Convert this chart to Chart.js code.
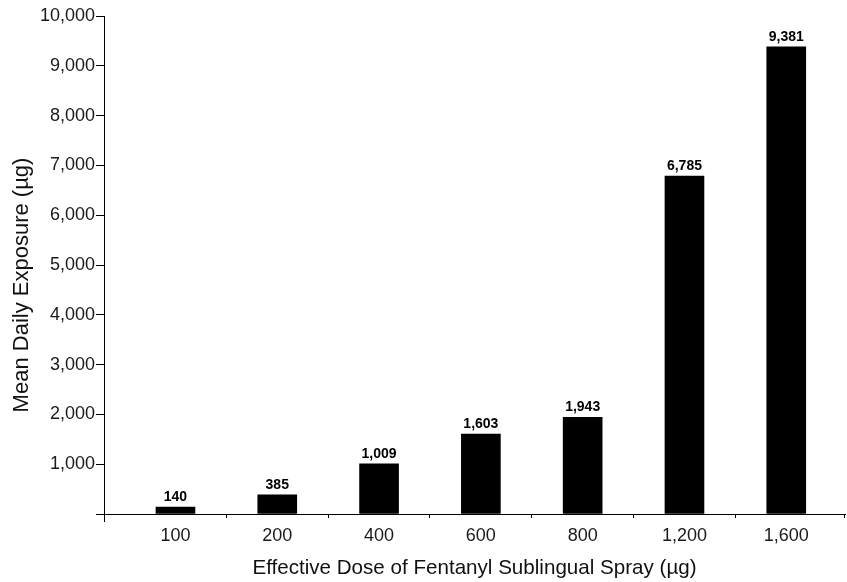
<!DOCTYPE html>
<html>
<head>
<meta charset="utf-8">
<script src="https://cdn.jsdelivr.net/npm/chart.js@4"></script>
<style>
  html, body { margin: 0; padding: 0; background: #fff; }
  #wrap { width: 847px; height: 582px; }
</style>
</head>
<body>
<div id="wrap"><canvas id="doseChart"></canvas></div>
<script>
// --- Chart data ---
const doses = ["100", "200", "400", "600", "800", "1,200", "1,600"];
const exposure = [140, 385, 1009, 1603, 1943, 6785, 9381];
const yMin = 0;
const yMax = 10000;
const yStep = 1000;

const xTitle = "Effective Dose of Fentanyl Sublingual Spray (\u00b5g)";
const yTitle = "Mean Daily Exposure (\u00b5g)";

const fontFamily = "'Liberation Sans', Arial, Helvetica, sans-serif";

// value labels over the bars, placed from the bar elements
const barValueLabels = {
  id: "barValueLabels",
  afterDatasetsDraw(chart) {
    const ctx = chart.ctx;
    const meta = chart.getDatasetMeta(0);
    ctx.save();
    ctx.font = "bold 14px " + fontFamily;
    ctx.textAlign = "center";
    ctx.textBaseline = "alphabetic";
    ctx.fillStyle = "#000";
    meta.data.forEach((bar, i) => {
      ctx.fillText(exposure[i].toLocaleString("en-US"), bar.x, bar.y - 6);
    });
    ctx.restore();
  },
};

// small axis extras: y axis running past the x axis, end nub, y title
const axisExtras = {
  id: "axisExtras",
  afterDraw(chart) {
    const { ctx, chartArea } = chart;
    ctx.save();
    ctx.strokeStyle = "#000";
    ctx.lineWidth = 1;
    ctx.beginPath();
    ctx.moveTo(Math.round(chartArea.left) + 0.5, chartArea.bottom);
    ctx.lineTo(Math.round(chartArea.left) + 0.5, chartArea.bottom + 8);
    ctx.moveTo(Math.round(chartArea.right) - 0.5, chartArea.bottom);
    ctx.lineTo(Math.round(chartArea.right) - 0.5, chartArea.bottom + 4);
    ctx.stroke();

    ctx.translate(22, (chartArea.top + chartArea.bottom) / 2 + 20);
    ctx.rotate(-Math.PI / 2);
    ctx.font = "22px " + fontFamily;
    ctx.textAlign = "center";
    ctx.textBaseline = "middle";
    ctx.fillStyle = "#111";
    ctx.fillText(yTitle, 0, 0);
    ctx.restore();
  },
};

const canvas = document.getElementById("doseChart");

new Chart(canvas, {
  type: "bar",
  data: {
    datasets: [
      {
        label: "Mean Daily Exposure",
        data: exposure.map((v, i) => ({ x: i, y: v })),
        backgroundColor: "#000",
        borderWidth: 0,
        barThickness: 39,
      },
    ],
  },
  options: {
    responsive: true,
    maintainAspectRatio: false,
    devicePixelRatio: 1,
    animation: false,
    layout: {
      padding: { top: 16, right: 2, left: 0, bottom: 0 },
    },
    plugins: {
      legend: { display: false },
      tooltip: { enabled: false },
    },
    scales: {
      x: {
        type: "linear",
        offset: false,
        min: -0.702,
        max: 6.577,
        afterBuildTicks: (scale) => {
          scale.ticks = doses.map((d, i) => ({ value: i }));
        },
        afterFit: (scale) => {
          scale.height = 68;
        },
        ticks: {
          callback: (value) => doses[value],
          color: "#1a1a1a",
          font: { family: fontFamily, size: 18 },
          padding: 7,
          maxRotation: 0,
          autoSkip: false,
        },
        grid: {
          offset: true,
          drawOnChartArea: false,
          tickLength: 4,
          tickColor: (ctx) =>
            ctx.index === undefined || ctx.index === 0 ? "rgba(0,0,0,0)" : "#000",
        },
        border: { display: true, color: "#000", width: 1 },
        title: {
          display: true,
          text: xTitle,
          color: "#111",
          font: { family: fontFamily, size: 20.6 },
          padding: { top: 0, bottom: 1 },
        },
      },
      y: {
        min: yMin,
        max: yMax,
        afterFit: (scale) => {
          scale.width = 104;
        },
        ticks: {
          stepSize: yStep,
          callback: (value) => (value === 0 ? "" : value.toLocaleString("en-US")),
          color: "#1a1a1a",
          font: { family: fontFamily, size: 18 },
          padding: 1,
        },
        grid: {
          drawOnChartArea: false,
          tickLength: 8,
          tickColor: "#000",
        },
        border: { display: true, color: "#000", width: 1 },
      },
    },
  },
  plugins: [barValueLabels, axisExtras],
});
</script>
</body>
</html>
